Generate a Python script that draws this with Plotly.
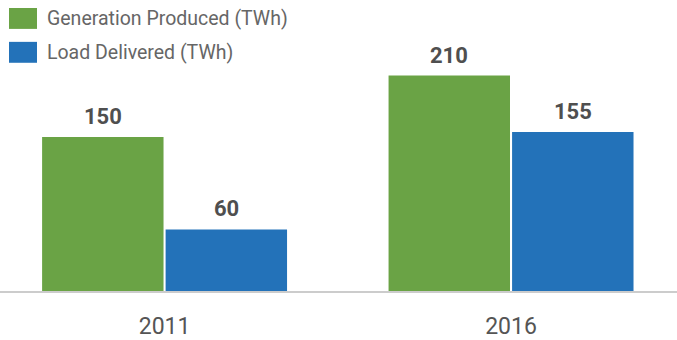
import plotly.graph_objects as go

years = ["2011", "2016"]
series_names = ["Generation Produced (TWh)", "Load Delivered (TWh)"]
generation = [150, 210]
load = [60, 155]
colors = ["#6aa345", "#2372b9"]

FONT = "Roboto"
bar_w = 0.3505
offsets = [-0.3535, 0.003]

fig = go.Figure()
for name, vals, col, off in zip(series_names, [generation, load], colors, offsets):
    fig.add_trace(go.Bar(
        x=years, y=vals, name=name, marker=dict(color=col, line=dict(width=0)),
        width=bar_w, offset=off, showlegend=False,
    ))
    for i, v in enumerate(vals):
        fig.add_annotation(
            x=i + off + bar_w / 2, y=v, xref="x", yref="y",
            text=f"<b>{v}</b>", showarrow=False, yanchor="bottom", yshift=6,
            font=dict(family=FONT, size=22, color="#4f4f4f"),
        )

# legend drawn as swatches + labels at the top left
for k, (name, col) in enumerate(zip(series_names, colors)):
    y_top = 8 + 34 * k
    fig.add_shape(type="rect", xref="paper", yref="paper",
                  x0=9 / 677, x1=37 / 677,
                  y0=1 - (y_top + 21) / 292, y1=1 - y_top / 292,
                  fillcolor=col, line=dict(width=0), layer="above")
    fig.add_annotation(xref="paper", yref="paper", x=45 / 677,
                       y=1 - (y_top + 10.5) / 292, text=name, showarrow=False,
                       xanchor="left", yanchor="middle",
                       font=dict(family=FONT, size=19.5, color="#666666"))

fig.update_layout(
    width=677, height=340, margin=dict(l=0, r=0, t=0, b=47),
    paper_bgcolor="white", plot_bgcolor="white",
    xaxis=dict(type="category", range=[-0.475, 1.479], showline=True,
               linecolor="#cccccc", linewidth=2, showgrid=False, ticks="",
               ticklabelstandoff=13,
               tickfont=dict(family=FONT, size=23, color="#555555")),
    yaxis=dict(range=[0, 283.6], visible=False, showgrid=False, zeroline=False),
)

fig.write_html("out.html")
